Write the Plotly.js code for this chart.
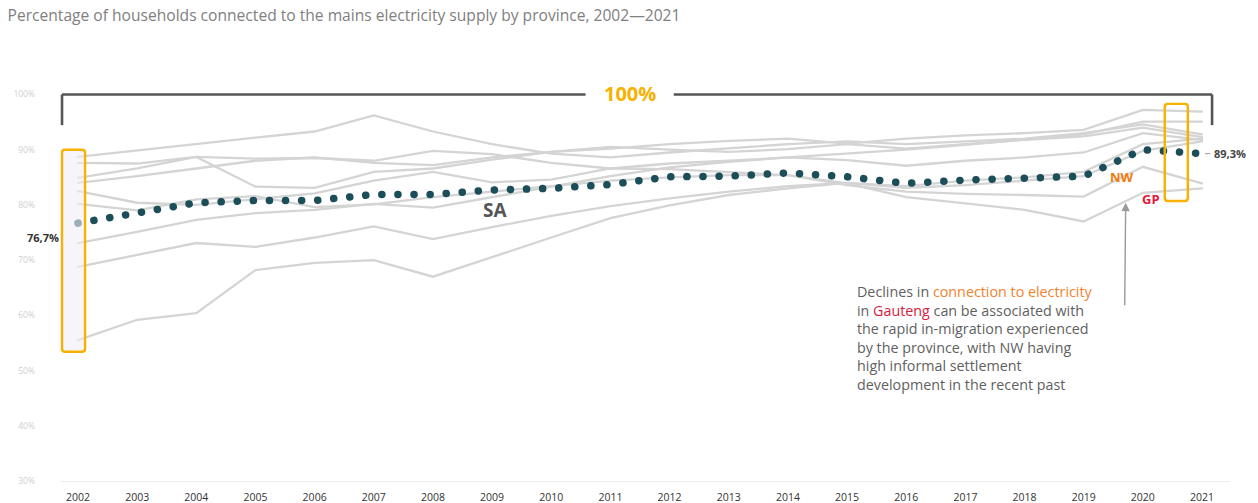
<!DOCTYPE html>
<html>
<head>
<meta charset="utf-8">
<script src="https://cdn.plot.ly/plotly-3.0.1.min.js"></script>
<style>
  html, body { margin: 0; padding: 0; background: #fff; }
  #chart { width: 1258px; height: 503px; }
  .scatterlayer .js-line { stroke-linecap: round; }
</style>
</head>
<body>
<div id="chart"></div>
<script>
// ---------- DATA ----------
const years = [2002,2003,2004,2005,2006,2007,2008,2009,2010,2011,2012,2013,2014,2015,2016,2017,2018,2019,2020,2021];
const yearLabels = years.map(String);

// South Africa (national) share of households connected to mains electricity, %
const saValues = [76.7,78.5,80.4,80.8,80.8,81.9,81.9,82.7,83.0,83.7,85.1,85.2,85.8,85.1,83.9,84.5,84.8,85.2,90.0,89.3];

// Provinces (grey background lines), %
const provWC  = [88.7,89.9,91.0,92.2,93.3,96.2,93.3,91.0,89.3,88.6,89.5,90.3,91.0,91.5,91.0,91.5,92.0,93.0,94.6,92.8];
const provGP  = [87.6,87.5,88.7,88.4,88.5,88.0,89.8,89.2,87.6,86.6,86.5,86.0,85.4,83.9,81.4,80.3,79.1,77.0,82.2,83.0];
const provFS  = [84.9,86.6,88.7,83.3,83.1,86.0,86.6,88.2,89.6,90.5,90.0,89.6,90.1,91.0,90.2,91.0,91.8,92.4,94.0,92.3];
const provNC  = [84.0,85.2,86.6,88.0,88.6,87.6,87.2,88.6,89.6,90.2,91.0,91.6,92.0,91.1,92.0,92.6,93.0,93.6,97.2,96.9];
const provMP  = [82.5,80.4,80.0,81.1,82.1,84.4,86.0,84.1,84.6,86.6,87.5,88.0,88.6,88.1,87.1,88.0,88.6,89.5,93.0,91.8];
const provNW  = [80.2,79.0,81.0,81.6,79.6,80.1,81.4,82.4,83.4,84.4,85.0,85.4,85.4,83.6,82.4,82.0,81.8,81.5,86.9,83.9];
const provLP  = [73.1,75.1,77.3,78.5,79.1,80.2,79.5,81.4,83.2,85.2,86.8,87.8,88.6,89.3,90.0,90.9,91.8,92.8,95.1,95.1];
const provKZN = [68.8,71.0,73.1,72.4,74.1,76.1,73.8,76.0,78.0,79.8,81.2,82.4,83.4,84.0,83.1,83.6,84.4,85.2,89.8,91.5];
const provEC  = [55.5,59.2,60.4,68.2,69.5,70.0,67.0,70.6,74.1,77.6,79.9,81.8,83.0,84.0,83.4,84.4,85.0,86.0,91.0,92.0];

const provinceNames = ['WC','GP','FS','NC','MP','NW','LP','KZN','EC'];
const provinceSeries = [provWC,provGP,provFS,provNC,provMP,provNW,provLP,provKZN,provEC];

const yTickVals = [30,40,50,60,70,80,90,100];
const yTickText = ['30%','40%','50%','60%','70%','80%','90%','100%'];

const titleText = 'Percentage of households connected to the mains electricity supply by province, 2002\u20142021';
const noteText = 'Declines in <span style="color:#f0822e">connection to electricity</span><br>' +
  'in <span style="color:#d81b3c">Gauteng</span> can be associated with<br>' +
  'the rapid in-migration experienced<br>' +
  'by the province, with NW having<br>' +
  'high informal settlement<br>' +
  'development in the recent past';

// ---------- TRACES ----------
const traces = provinceSeries.map((vals, i) => ({
  type: 'scatter', mode: 'lines', name: provinceNames[i],
  x: years, y: vals,
  line: { color: '#d4d4d4', width: 2.3 },
  hoverinfo: 'skip', showlegend: false
}));

traces.push({
  type: 'scatter', mode: 'lines', name: 'SA',
  x: years, y: saValues,
  line: { color: '#1b4e58', width: 7.5, dash: '0.1px,16px' },
  showlegend: false
});

// ---------- GEOMETRY HELPERS ----------
const xMin = 2001.696, xMax = 2021.473;
const yMin = 30, yMax = 106.25;
const pxPerYear = 1170 / (xMax - xMin);
const pxPerPct = 421 / (yMax - yMin);

function roundRect(x0, x1, y0, y1, rPx) {
  const rx = rPx / pxPerYear, ry = rPx / pxPerPct;
  return `M ${x0+rx},${y1} L ${x1-rx},${y1} Q ${x1},${y1} ${x1},${y1-ry} ` +
         `L ${x1},${y0+ry} Q ${x1},${y0} ${x1-rx},${y0} ` +
         `L ${x0+rx},${y0} Q ${x0},${y0} ${x0},${y0+ry} ` +
         `L ${x0},${y1-ry} Q ${x0},${y1} ${x0+rx},${y1} Z`;
}

const first = provinceSeries.map(s => s[0]).concat([saValues[0]]);
const last = provinceSeries.map(s => s[s.length-1]).concat([saValues[saValues.length-1]]);
const leftBox = { x0: 2001.73, x1: 2002.12, y0: Math.min(...first) - 2.1, y1: Math.max(...first) + 1.3 };
const rightBox = { x0: 2020.37, x1: 2020.76, y0: Math.min(...last) - 2.3, y1: Math.max(...last) + 1.4 };

const brL = 2001.73, brR = 2021.17, brTop = 100, brDrop = 94.45;
const gapL = 2010.58, gapR = 2012.07;
const gold = '#f7b200';

const shapes = [
  { type: 'line', xref: 'x', yref: 'y', x0: brL, x1: gapL, y0: brTop, y1: brTop, line: { color: '#555', width: 2.6 } },
  { type: 'line', xref: 'x', yref: 'y', x0: gapR, x1: brR, y0: brTop, y1: brTop, line: { color: '#555', width: 2.6 } },
  { type: 'line', xref: 'x', yref: 'y', x0: brL, x1: brL, y0: brTop, y1: brDrop, line: { color: '#555', width: 2.6 } },
  { type: 'line', xref: 'x', yref: 'y', x0: brR, x1: brR, y0: brTop, y1: brDrop, line: { color: '#555', width: 2.6 } },
  { type: 'path', xref: 'x', yref: 'y', layer: 'above', path: roundRect(leftBox.x0, leftBox.x1, leftBox.y0, leftBox.y1, 3),
    fillcolor: 'rgba(238,238,247,0.6)', line: { color: gold, width: 2.4 } },
  { type: 'path', xref: 'x', yref: 'y', layer: 'above', path: roundRect(rightBox.x0, rightBox.x1, rightBox.y0, rightBox.y1, 3),
    fillcolor: 'rgba(255,255,255,0)', line: { color: gold, width: 2.4 } },
  { type: 'line', xref: 'x', yref: 'y', x0: 2021.05, x1: 2021.14, y0: saValues[19], y1: saValues[19], line: { color: '#aaa', width: 1.2 } }
];

const annotations = [
  { x: (gapL + gapR) / 2, y: brTop, xref: 'x', yref: 'y', text: '<b>100%</b>', showarrow: false,
    font: { family: 'Open Sans, sans-serif', size: 20, color: gold }, yshift: 1 },
  { x: years[0], y: saValues[0], xref: 'x', yref: 'y', text: '<b>76,7%</b>', showarrow: false,
    xanchor: 'right', xshift: -17, yshift: -14, font: { family: 'Open Sans, sans-serif', size: 11, color: '#333' } },
  { x: years[19], y: saValues[19], xref: 'x', yref: 'y', text: '<b>89,3%</b>', showarrow: false,
    xanchor: 'left', xshift: 10, font: { family: 'Open Sans, sans-serif', size: 11, color: '#444' } },
  { x: 2009.05, y: 79.1, xref: 'x', yref: 'y', text: '<b>SA</b>', showarrow: false,
    font: { family: 'Open Sans, sans-serif', size: 19, color: '#555' } },
  { x: 2019.64, y: 85.1, xref: 'x', yref: 'y', text: '<b>NW</b>', showarrow: false,
    font: { family: 'Open Sans, sans-serif', size: 13, color: '#f07a10' } },
  { x: 2020.13, y: 81.0, xref: 'x', yref: 'y', text: '<b>GP</b>', showarrow: false,
    font: { family: 'Open Sans, sans-serif', size: 13, color: '#e8173a' } },
  { x: 2019.71, y: 80.4, xref: 'x', yref: 'y', text: '', showarrow: true, axref: 'pixel', ayref: 'pixel',
    ax: -1, ay: 104, arrowcolor: '#9a9a9a', arrowwidth: 1.4, arrowhead: 2, arrowsize: 1.2, standoff: 0 },
  { x: 2015.13, y: 66.4, xref: 'x', yref: 'y', text: noteText, showarrow: false, xanchor: 'left', yanchor: 'top',
    align: 'left', font: { family: 'Open Sans, sans-serif', size: 14.3, color: '#5f5f5f' } }
];

const layout = {
  width: 1258, height: 503,
  margin: { l: 60, r: 28, t: 60, b: 22 },
  paper_bgcolor: '#fff', plot_bgcolor: '#fff',
  title: { text: titleText, x: 0.006, xanchor: 'left', xref: 'container', yref: 'container', y: 0.97, yanchor: 'middle',
    font: { family: 'Open Sans, sans-serif', size: 15.6, color: '#808080' } },
  xaxis: { range: [xMin, xMax], tickvals: years, ticktext: yearLabels, showgrid: false, zeroline: false,
    showline: true, linecolor: '#ececec', linewidth: 1, ticks: '', ticklabelstandoff: 6,
    tickfont: { family: 'Open Sans, sans-serif', size: 10.5, color: '#333' } },
  yaxis: { range: [yMin, yMax], tickvals: yTickVals, ticktext: yTickText, showgrid: false, zeroline: false,
    showline: false, ticks: '', ticklabelstandoff: 24,
    tickfont: { family: 'Open Sans, sans-serif', size: 8.5, color: '#cfcfcf' } },
  shapes: shapes, annotations: annotations,
  showlegend: false, hovermode: false
};

Plotly.newPlot('chart', traces, layout, { displayModeBar: false, staticPlot: true });
</script>
</body>
</html>
